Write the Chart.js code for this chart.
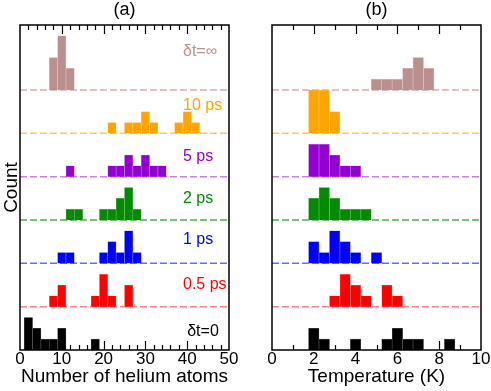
<!DOCTYPE html>
<html>
<head>
<meta charset="utf-8">
<script src="https://cdn.jsdelivr.net/npm/chart.js@4.4.0/dist/chart.umd.min.js"></script>
<style>
  body { margin: 0; background: #fff; }
  canvas { position: absolute; top: 0; }
</style>
</head>
<body>
<canvas id="chartA" width="245" height="391" style="left:0"></canvas>
<canvas id="chartB" width="246" height="391" style="left:245px"></canvas>
<script>
// rows, bottom to top
const rowNames = ['δt=0', '0.5 ps', '1 ps', '2 ps', '5 ps', '10 ps', 'δt=∞'];
const rowOffsets = [0, 4, 8, 12, 16, 20, 24];

// (a) number of helium atoms: [bin centre, count]
const heliumT0 = [[2, 3], [4, 2], [6, 1], [8, 1], [10, 2], [18, 1]];
const helium05 = [[8, 1], [10, 2], [18, 1], [20, 3], [22, 1], [26, 2]];
const helium1 = [[10, 1], [12, 1], [20, 1], [22, 2], [24, 1], [26, 3], [28, 1]];
const helium2 = [[12, 1], [14, 1], [20, 1], [22, 1], [24, 2], [26, 3], [28, 1]];
const helium5 = [[12, 1], [22, 1], [24, 1], [26, 2], [28, 1], [30, 2], [32, 1], [34, 1]];
const helium10 = [[22, 1], [26, 1], [28, 1], [30, 2], [32, 1], [38, 1], [40, 2], [42, 1]];
const heliumInf = [[8, 3], [10, 5], [12, 2]];

// (b) temperature (K): [bin centre, count]
const tempT0 = [[2, 2], [2.5, 1], [4, 1], [5.5, 1], [6, 2], [6.5, 1], [7, 1], [8.5, 1]];
const temp05 = [[3, 1], [3.5, 3], [4, 2], [4.5, 1], [5.5, 2], [6, 1]];
const temp1 = [[2, 2], [2.5, 1], [3, 3], [3.5, 2], [4, 1], [5, 1]];
const temp2 = [[2, 2], [2.5, 3], [3, 2], [3.5, 1], [4, 1], [4.5, 1]];
const temp5 = [[2, 3], [2.5, 3], [3, 2], [3.5, 1], [4, 1]];
const temp10 = [[2, 4], [2.5, 4], [3, 2]];
const tempInf = [[5, 1], [5.5, 1], [6, 1], [6.5, 2], [7, 3], [7.5, 2]];

const rowColors = ['#000000', '#ff0000', '#0000ff', '#008b00', '#9400d3', '#ffa500', '#bc8f8f'];
const edgeColors = ['#555555', '#ff9090', '#8080ff', '#70c070', '#cc80ee', '#ffd080', '#e0c4c4'];
const dashColors = ['#000000', '#ff8080', '#6a6aff', '#4cb04c', '#c680e8', '#ffc766', '#d4b0b0'];

const FONT = '"Liberation Sans", Arial, sans-serif';

function buildDatasets(rows, xMin, xMax) {
  const sets = [];
  rows.forEach((row, i) => {
    const base = rowOffsets[i];
    if (i > 0) {
      sets.push({
        type: 'line',
        data: [{ x: xMin, y: base }, { x: xMax, y: base }],
        borderColor: dashColors[i],
        borderWidth: 1.5,
        borderDash: [7, 3],
        pointRadius: 0,
        order: 2
      });
    }
    sets.push({
      type: 'bar',
      data: row.map(([c, n]) => ({ x: c, y: [base, base + n] })),
      backgroundColor: rowColors[i],
      borderColor: edgeColors[i],
      borderWidth: { left: 0.6, right: 0.6, top: 0.6, bottom: 0 },
      grouped: false,
      barPercentage: 1,
      categoryPercentage: 1,
      order: 1
    });
  });
  return sets;
}

// frame, inward ticks, panel letter and row labels
const framePlugin = {
  id: 'frame',
  afterDatasetsDraw(chart, args, opts) {
    const { ctx, chartArea: a, scales: { x, y } } = chart;
    ctx.save();
    ctx.strokeStyle = '#000';
    ctx.lineWidth = 1.2;
    const n = Math.round((x.max - x.min) / opts.minor);
    for (let k = 1; k < n; k++) {
      const v = x.min + k * opts.minor;
      const px = Math.round(x.getPixelForValue(v)) + 0.5;
      const r = v / opts.major;
      const len = Math.abs(r - Math.round(r)) < 1e-6 ? 9 : 5;
      ctx.beginPath();
      ctx.moveTo(px, a.top); ctx.lineTo(px, a.top + len);
      ctx.moveTo(px, a.bottom); ctx.lineTo(px, a.bottom - len);
      ctx.stroke();
    }
    ctx.lineWidth = 1.5;
    ctx.strokeRect(a.left, a.top, a.right - a.left, a.bottom - a.top);

    ctx.fillStyle = '#000';
    ctx.font = '18px ' + FONT;
    ctx.textAlign = 'center';
    ctx.textBaseline = 'middle';
    ctx.fillText(opts.title, (a.left + a.right) / 2, 10);

    if (opts.labels) {
      ctx.font = '16px ' + FONT;
      ctx.textAlign = 'left';
      ctx.textBaseline = 'alphabetic';
      opts.labels.forEach((lb, i) => {
        ctx.fillStyle = rowColors[i];
        ctx.fillText(rowNames[i], x.getPixelForValue(lb[0]), y.getPixelForValue(lb[1]));
      });
    }
    ctx.restore();
  }
};

function makeChart(id, rows, xMax, xStep, xTitle, yTitle, yWidth, padRight, frameOpts) {
  return new Chart(document.getElementById(id), {
    type: 'bar',
    data: { datasets: buildDatasets(rows, 0, xMax) },
    options: {
      responsive: false,
      animation: false,
      datasets: { bar: { barPercentage: 1, categoryPercentage: 1, grouped: false } },
      layout: { padding: { top: 25, right: padRight, left: 0, bottom: 0 } },
      plugins: { legend: { display: false }, tooltip: { enabled: false }, frame: frameOpts },
      scales: {
        x: {
          type: 'linear',
          min: 0, max: xMax,
          offset: false,
          grid: { display: false },
          border: { display: false },
          ticks: { stepSize: xStep, color: '#000', font: { family: FONT, size: 17 }, padding: -9, maxRotation: 0 },
          title: { display: true, text: xTitle, color: '#000', font: { family: FONT, size: 19 }, padding: { top: 0, bottom: 3 } },
          afterFit: s => { s.height = 41; }
        },
        y: {
          min: 0, max: 30,
          grid: { display: false },
          border: { display: false },
          ticks: { display: false },
          title: { display: !!yTitle, text: yTitle, color: '#000', font: { family: FONT, size: 19 }, padding: 0 },
          afterFit: s => { s.width = yWidth; }
        }
      }
    },
    plugins: [framePlugin]
  });
}

// label anchor: [x value, y value of baseline]
const labelAnchors = [[40, 1.3], [39, 5.6], [39, 9.8], [39, 13.55], [39, 17.45], [39, 22.2], [39, 27.15]];

makeChart('chartA',
  [heliumT0, helium05, helium1, helium2, helium5, helium10, heliumInf],
  50, 10, 'Number of helium atoms', 'Count', 20, 16,
  { title: '(a)', minor: 2, major: 10, labels: labelAnchors });

makeChart('chartB',
  [tempT0, temp05, temp1, temp2, temp5, temp10, tempInf],
  10, 2, 'Temperature (K)', '', 27, 10,
  { title: '(b)', minor: 1, major: 2 });
</script>
</body>
</html>
